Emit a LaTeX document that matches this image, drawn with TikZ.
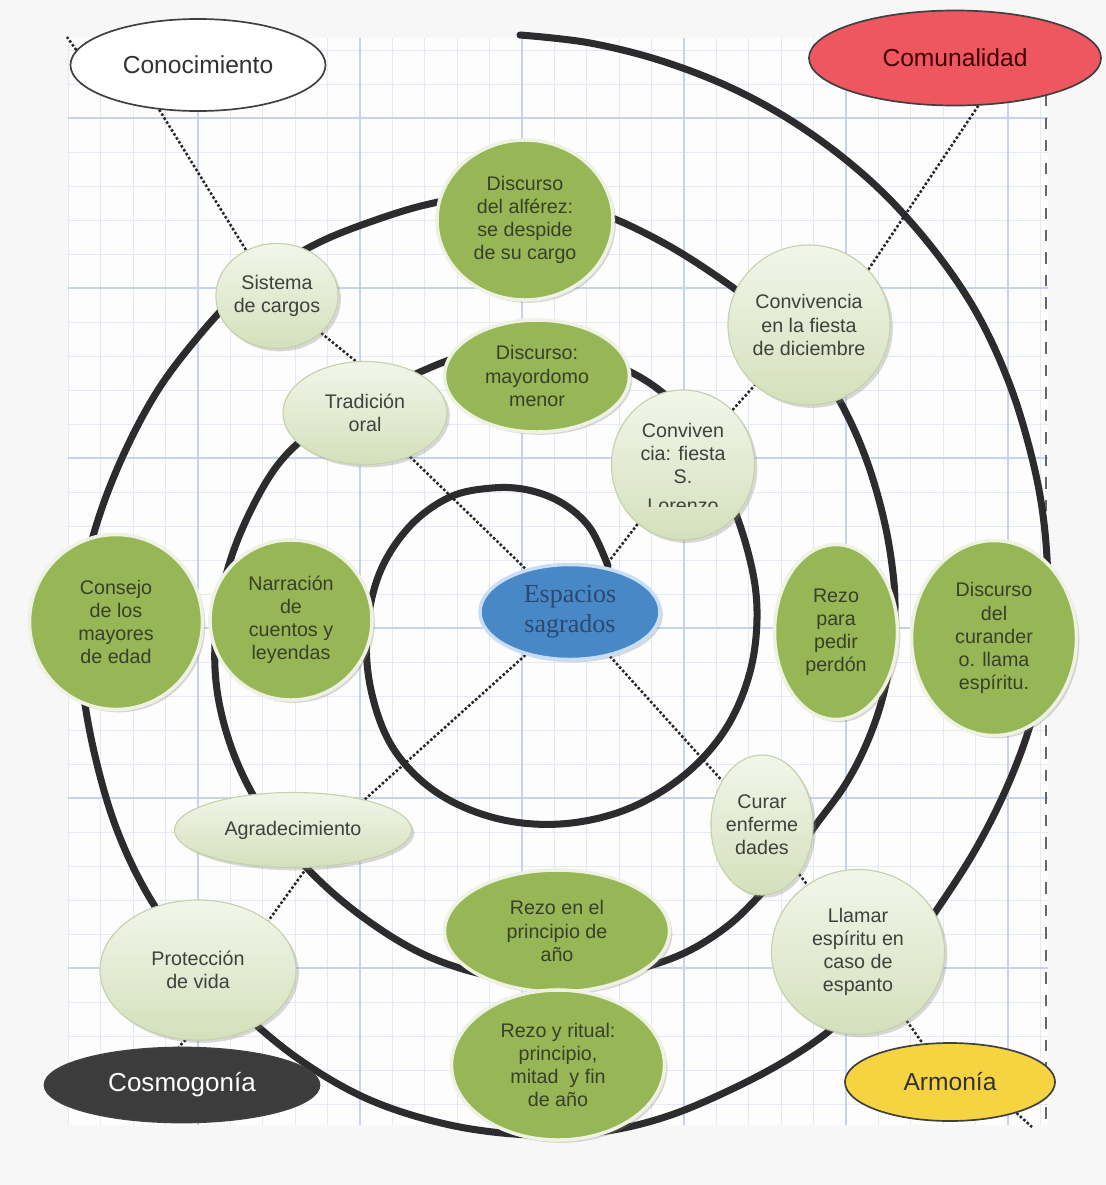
\documentclass[tikz,border=0pt]{standalone}
\usepackage{fontspec}
\setmainfont{Liberation Sans}
\newfontfamily\timesface{Liberation Serif}
\usepackage{trimclip}
\usetikzlibrary{shapes.geometric,shadows}

\definecolor{leafdark}{RGB}{151,182,86}
\definecolor{leafrim}{RGB}{238,242,226}
\definecolor{paletop}{RGB}{242,246,234}
\definecolor{palebot}{RGB}{212,224,188}
\definecolor{palerim}{RGB}{196,210,170}
\definecolor{inkgray}{RGB}{64,64,60}
\definecolor{inkleaf}{RGB}{56,64,42}
\definecolor{coilgray}{RGB}{44,44,46}
\definecolor{gridminor}{RGB}{229,233,243}
\definecolor{gridmajor}{RGB}{198,211,236}
\definecolor{paperbg}{RGB}{247,247,247}
\definecolor{redlabel}{RGB}{238,86,96}
\definecolor{yellowlabel}{RGB}{246,211,64}
\definecolor{darklabel}{RGB}{60,60,60}
\definecolor{skyfill}{RGB}{72,136,198}
\definecolor{skyrim}{RGB}{200,222,244}
\definecolor{skyink}{RGB}{42,72,112}

\pgfdeclarelayer{gridlayer}
\pgfdeclarelayer{lines}
\pgfsetlayers{gridlayer,lines,main}

\tikzset{
    %Define style for the dark green bubbles
    dark-leaf/.style={
           ellipse,
           fill=leafdark,
           draw=leafrim, line width=2.5pt,
           drop shadow={shadow xshift=2pt, shadow yshift=-2pt, opacity=.3},
           inner sep=0pt,
           align=center,
           text=inkleaf,
           font=\fontsize{14}{16.4}\selectfont},
    %Define style for the pale green bubbles
    pale-leaf/.style={
           ellipse,
           top color=paletop, bottom color=palebot,
           draw=palerim, line width=0.8pt,
           drop shadow={shadow xshift=2pt, shadow yshift=-2pt, opacity=.3},
           inner sep=0pt,
           align=center,
           text=inkgray,
           font=\fontsize{14}{16.4}\selectfont},
    %Define style for the four corner labels
    corner-style/.style={
           ellipse,
           draw=black!75, line width=1.2pt,
           inner sep=0pt,
           text=black!80,
           font=\fontsize{17.5}{20}\selectfont},
    % Define line styles
    dots/.style={
           line width=1.8pt,
           dash pattern=on 1.8pt off 1.5pt,
           black!85},
    coil/.style={
           line width=5pt,
           coilgray,
           line cap=round}
}

\begin{document}
\begin{tikzpicture}[x=0.025cm, y=-0.025cm]
 \useasboundingbox (0,0) rectangle (1106,1185);

 % corner labels
 \node[corner-style, fill=white, minimum width=6.375cm, minimum height=2.3cm] (con) at (198,65) {Conocimiento};
 \node[corner-style, fill=redlabel, text=black!75!red, minimum width=7.3cm, minimum height=2.375cm] (com) at (955,58) {Comunalidad};
 \node[corner-style, fill=darklabel, text=white, minimum width=6.875cm, minimum height=1.875cm, font=\fontsize{18.5}{21}\selectfont] (cos) at (182,1085) {Cosmogonía};
 \node[corner-style, fill=yellowlabel, minimum width=5.25cm, minimum height=1.95cm] (arm) at (950,1082) {Armonía};

 % centre
 \node[ellipse, fill=skyfill, draw=skyrim, line width=2.5pt, inner sep=0pt,
       drop shadow={shadow xshift=2pt, shadow yshift=-2pt, opacity=.3},
       minimum width=4.5cm, minimum height=2.375cm, align=center, text=skyink,
       font=\timesface\fontsize{18.5}{21.5}\selectfont] (esp) at (570,612) {Espacios\\sagrados};

 % bubbles
 \node[dark-leaf, minimum width=4.4cm, minimum height=4cm] (alf) at (525,220) {Discurso\\del alférez:\\se despide\\de su cargo};
 \node[pale-leaf, minimum width=3cm, minimum height=2.625cm] (sis) at (277,296) {Sistema\\de cargos};
 \node[pale-leaf, minimum width=4.05cm, minimum height=4cm] (dic) at (809,325) {Convivencia\\en la fiesta\\de diciembre};
 \node[pale-leaf, minimum width=4.1cm, minimum height=2.575cm] (tra) at (365,413) {Tradición\\oral};
 \node[dark-leaf, minimum width=4.625cm, minimum height=2.8cm] (may) at (537,376) {Discurso:\\mayordomo\\menor};
 \node[pale-leaf, minimum width=3.575cm, minimum height=3.75cm] (slz) at (683,465) {Conviven\\cia: fiesta\\S.\\\clipbox{0pt .42\height{} 0pt 0pt}{Lorenzo}};
 \node[dark-leaf, minimum width=4.325cm, minimum height=4.375cm] (cons) at (116,622) {Consejo\\de los\\mayores\\de edad};
 \node[dark-leaf, minimum width=4.05cm, minimum height=4cm] (nar) at (291,620) {Narración\\de\\cuentos y\\leyendas};
 \node[dark-leaf, minimum width=3.075cm, minimum height=4.375cm] (per) at (836,632) {Rezo\\para\\pedir\\perdón};
 \node[dark-leaf, minimum width=4.125cm, minimum height=4.875cm] (cur) at (994,638) {Discurso\\del\\curander\\o. llama\\espíritu.};
 \node[pale-leaf, minimum width=2.5cm, minimum height=3.5cm] (enf) at (762,825) {Curar\\enferme\\dades};
 \node[pale-leaf, minimum width=5.925cm, minimum height=1.875cm] (agr) at (293,830) {Agradecimiento};
 \node[dark-leaf, minimum width=5.625cm, minimum height=3.05cm] (pri) at (557,931) {Rezo en el\\principio de\\año};
 \node[pale-leaf, minimum width=4.9cm, minimum height=3.5cm] (pro) at (198,970) {Protección\\de vida};
 \node[pale-leaf, minimum width=4.325cm, minimum height=4.125cm] (lla) at (858,952) {Llamar\\espíritu en\\caso de\\espanto};
 \node[dark-leaf, minimum width=5.325cm, minimum height=3.75cm] (rit) at (558,1065) {Rezo y ritual:\\principio,\\mitad~ y fin\\de año};

 \coordinate (nwcorner) at (67,37);
 \coordinate (secorner) at (1032,1127);

 % grid paper
 \begin{pgfonlayer}{gridlayer}
  \fill[paperbg] (0,0) rectangle (1106,1185);
  \fill[white!70!paperbg] (68,38) rectangle (1048,1125);
  \foreach \gx in {68.4,100.8,...,1048}
    \draw[gridminor, line width=0.6pt] (\gx,38) -- (\gx,1125);
  \foreach \gy in {50,84,...,1125}
    \draw[gridminor, line width=0.6pt] (68,\gy) -- (1048,\gy);
  \foreach \gx in {198,360,522,684,846,1008}
    \draw[gridmajor, line width=1.3pt] (\gx,38) -- (\gx,1125);
  \foreach \gy in {118,288,458,628,798,968}
    \draw[gridmajor, line width=1.3pt] (68,\gy) -- (1048,\gy);
  \draw[black!60, line width=2pt, dash pattern=on 8pt off 8pt] (1046,95) -- (1046,1125);
 \end{pgfonlayer}

 \begin{pgfonlayer}{lines}
  % the spiral
  \draw[coil] plot[smooth, tension=0.6] coordinates {
    (608,566) (590,528) (562,503) (528,490) (492,488) (450,497) (410,526) (380,572)
    (367,630) (371,690) (393,748) (436,792) (495,818) (560,824) (625,810)
    (682,777) (725,730) (750,672) (757,610) (748,552) (725,487) (690,422)
    (648,382) (590,356) (530,347) (470,354) (420,372) (370,398) (320,426)
    (280,462) (250,512) (228,568) (216,630) (217,690) (233,752) (262,810)
    (305,866) (360,915) (425,955) (495,977) (560,982) (625,972) (680,955)
    (725,928) (760,895) (790,860) (818,822) (845,785) (866,745) (882,700)
    (892,650) (895,605) (892,565) (884,520) (870,470) (852,425) (830,385)
    (800,347) (762,310) (715,275) (662,242) (602,214) (540,198) (480,196) (425,205)
    (370,222) (320,242) (275,268) (232,300) (193,343) (158,390) (128,445)
    (103,505) (86,565) (79,625) (83,690) (96,760) (117,830) (148,895)
    (190,955) (240,1010) (300,1060) (370,1100) (450,1125) (530,1135)
    (600,1132) (665,1117) (730,1090) (790,1058) (840,1022) (895,968)
    (940,905) (978,845) (1010,780) (1033,715) (1045,650) (1048,585)
    (1043,515) (1030,450) (1008,380) (975,310) (930,245) (875,185)
    (810,133) (740,92) (665,62) (590,43) (520,35)};

  % dotted links
  \draw[dots] (con.229) -- (sis.124);
  \draw[dots] (con.173) -- (nwcorner);
  \draw[dots] (sis.-40) -- (tra.100);
  \draw[dots] (tra) -- (esp);
  \draw[dots] (esp) -- (slz);
  \draw[dots] (slz) -- (dic);
  \draw[dots] (dic.43) -- (com.-64);
  \draw[dots] (esp) -- (enf);
  \draw[dots] (enf) -- (lla);
  \draw[dots] (lla) -- (arm);
  \draw[dots] (arm.-25) -- (secorner);
  \draw[dots] (esp.224) -- (agr.23);
  \draw[dots] (agr.-70) -- (pro.35);
  \draw[dots] (pro.-100) -- (cos.95);
 \end{pgfonlayer}

\end{tikzpicture}
\end{document}
